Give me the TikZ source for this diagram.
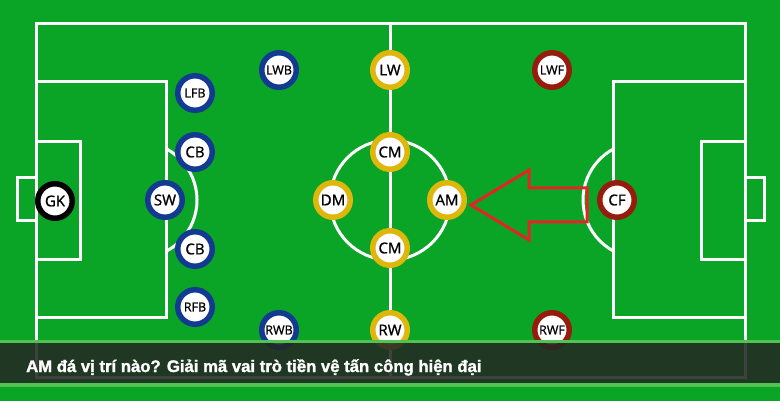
\documentclass[tikz,border=0pt]{standalone}
\usepackage{fontspec}
\setmainfont{Open Sans}
\newfontfamily\lblfont{Open Sans}[FakeBold=1.1]
\newfontfamily\bannerfont{Liberation Sans Bold}[FakeBold=1.6]
\definecolor{pitch}{RGB}{10,165,38}
\definecolor{ringblue}{RGB}{18,58,145}
\definecolor{ringgold}{RGB}{222,182,12}
\definecolor{ringred}{RGB}{150,28,14}
\definecolor{arrowred}{RGB}{228,36,36}
\definecolor{bannerc}{RGB}{36,40,36}
\definecolor{lightg}{RGB}{80,195,80}
\begin{document}
\begin{tikzpicture}[x=1pt,y=-1pt,
  fieldline/.style={white,line width=3pt},
  player/.style={circle,draw,line width=5.5pt,fill=white,minimum size=34.5pt,inner sep=0pt,text=black},
  two/.style={player,font=\lblfont\fontsize{15}{15}\selectfont},
  three/.style={player,font=\lblfont\fontsize{12.5}{12.5}\selectfont},
  def/.style={draw=ringblue},
  mid/.style={draw=ringgold},
  att/.style={draw=ringred},
  keeper/.style={draw=black}]
\fill[pitch] (0,0) rectangle (780,401);
\useasboundingbox (0,0) rectangle (780,401);
% pitch markings
\draw[fieldline] (36,24) rectangle (745,377);
\draw[fieldline] (390,24) -- (390,377);
\draw[fieldline] (390,200) circle[radius=60];
\draw[fieldline] (36,82) rectangle (166,317);
\draw[fieldline] (36,142) rectangle (80,260);
\draw[fieldline] (36,178) -- (17,178) -- (17,221) -- (36,221);
\draw[fieldline] (139,200) ++(-62:58) arc[start angle=-62,end angle=62,radius=58];
\draw[fieldline] (613,82) rectangle (745,317);
\draw[fieldline] (701,142) rectangle (745,260);
\draw[fieldline] (745,178) -- (764,178) -- (764,221) -- (745,221);
\draw[fieldline] (641,200) ++(118:58) arc[start angle=118,end angle=242,radius=58];
% players
\node[two,keeper] (gk) at (55,201) {GK};
\node[two,def] (sw) at (165,200) {SW};
\node[three,def] (lfb) at (195,93) {LFB};
\node[two,def] (cb1) at (195,152) {CB};
\node[two,def] (cb2) at (195,249) {CB};
\node[three,def] (rfb) at (195,307) {RFB};
\node[three,def] (lwb) at (279,70) {LWB};
\node[three,def] (rwb) at (279,330) {RWB};
\node[two,mid] (lw) at (390,70) {LW};
\node[two,mid] (cm1) at (390,152) {CM};
\node[two,mid] (dm) at (333,200) {DM};
\node[two,mid] (am) at (447,200) {AM};
\node[two,mid] (cm2) at (390,248) {CM};
\node[two,mid] (rw) at (390,330) {RW};
\node[three,att] (lwf) at (552,70) {LWF};
\node[two,att] (cf) at (617,200) {CF};
\node[three,att] (rwf) at (552,330) {RWF};
% arrow
\draw[arrowred,line width=3pt,line join=miter] (471,205) -- (529,170) -- (529,188) -- (587,188) -- (587,222) -- (529,222) -- (529,240) -- cycle;
% banner
\fill[bannerc,opacity=0.88] (0,343) rectangle (780,383);
\fill[lightg] (0,340) rectangle (780,343);
\fill[lightg] (0,383) rectangle (780,387);
\node[anchor=base west,inner sep=0pt,text=white,font=\bannerfont\fontsize{16.7}{16.7}\selectfont] (title) at (26,372) {AM đá vị trí nào? Giải mã vai trò tiền vệ tấn công hiện đại};
\end{tikzpicture}
\end{document}
